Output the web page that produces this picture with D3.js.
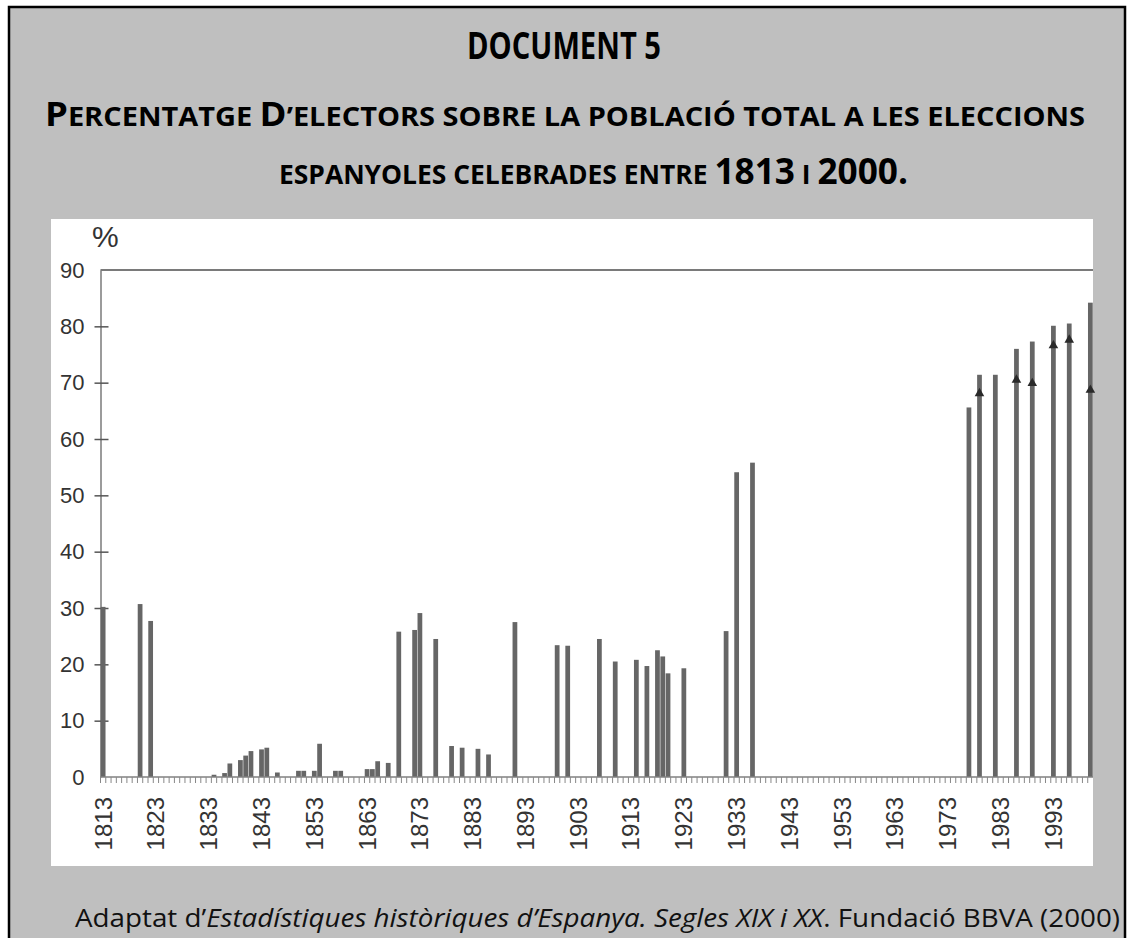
<!DOCTYPE html>
<html>
<head>
<meta charset="utf-8">
<script src="https://cdn.jsdelivr.net/npm/d3@7"></script>
<style>
  body { margin: 0; background: #fff; }
  svg { display: block; }
</style>
</head>
<body>
<svg id="chart" width="1128" height="938"></svg>
<script>
// election years and % of electors over total population
const years = [1813, 1820, 1822, 1834, 1836, 1837, 1839, 1840, 1841, 1843, 1844, 1846,
  1850, 1851, 1853, 1854, 1857, 1858, 1863, 1864, 1865, 1867, 1869, 1872, 1873, 1876,
  1879, 1881, 1884, 1886, 1891, 1899, 1901, 1907, 1910, 1914, 1916, 1918, 1919, 1920,
  1923, 1931, 1933, 1936, 1977, 1979, 1982, 1986, 1989, 1993, 1996, 2000]
const values = [30.2, 30.7, 27.7, 0.4, 0.7, 2.4, 3.0, 3.8, 4.6, 4.9, 5.2, 0.8,
  1.1, 1.1, 1.1, 5.9, 1.1, 1.1, 1.4, 1.4, 2.8, 2.5, 25.8, 26.1, 29.1, 24.5,
  5.5, 5.2, 5.0, 4.0, 27.5, 23.4, 23.3, 24.5, 20.5, 20.8, 19.7, 22.5, 21.4, 18.4,
  19.3, 25.9, 54.1, 55.8, 65.6, 71.4, 71.4, 76.0, 77.3, 80.1, 80.5, 84.2]

// small dark marks drawn on some of the recent bars
const markerYears = [1979, 1986, 1989, 1993, 1996, 2000]
const markerValues = [68.1, 70.5, 69.9, 76.6, 77.6, 68.7]

const firstYear = 1813
const lastYear = 2000
const tickYears = [1813, 1823, 1833, 1843, 1853, 1863, 1873, 1883, 1893, 1903,
  1913, 1923, 1933, 1943, 1953, 1963, 1973, 1983, 1993]
const yTicks = [0, 10, 20, 30, 40, 50, 60, 70, 80, 90]

const svg = d3.select('#chart')
const titleFont = '"Open Sans", "DejaVu Sans", sans-serif'
const axisFont = '"Liberation Sans", Arial, sans-serif'

// document frame
svg.append('rect')
  .attr('x', 9).attr('y', 7)
  .attr('width', 1116).attr('height', 945)
  .attr('fill', '#bfbfbf')
  .attr('stroke', '#000').attr('stroke-width', 2.5)

// titles
svg.append('text')
  .attr('x', 564).attr('y', 59)
  .attr('text-anchor', 'middle')
  .attr('font-family', titleFont).attr('font-weight', 700)
  .attr('font-size', 38)
  .attr('textLength', 194).attr('lengthAdjust', 'spacingAndGlyphs')
  .text('DOCUMENT 5')

function smallCaps(x, y, width, parts) {
  const t = svg.append('text')
    .attr('x', x).attr('y', y)
    .attr('font-family', titleFont).attr('font-weight', 700)
    .attr('textLength', width).attr('lengthAdjust', 'spacingAndGlyphs')
  parts.forEach(p => {
    t.append('tspan').attr('font-size', p[1]).text(p[0])
  })
}
smallCaps(45, 126, 1040, [['P', 34], ['ERCENTATGE ', 27], ['D', 34],
  ['\u2019ELECTORS SOBRE LA POBLACIÓ TOTAL A LES ELECCIONS', 27]])
smallCaps(279, 184, 629, [['ESPANYOLES CELEBRADES ENTRE ', 27], ['1813', 36],
  [' I ', 27], ['2000.', 36]])

// chart panel
svg.append('rect')
  .attr('x', 51).attr('y', 219)
  .attr('width', 1042).attr('height', 647)
  .attr('fill', '#fff')

const x = d3.scaleBand()
  .domain(d3.range(firstYear, lastYear + 1))
  .range([100.5, 1093])
  .paddingInner(0.1)
  .paddingOuter(0.05)

const y = d3.scaleLinear()
  .domain([0, 90])
  .range([777, 270])

const g = svg.append('g')

// top border line at 90
g.append('line')
  .attr('x1', 100.5).attr('x2', 1093)
  .attr('y1', y(90)).attr('y2', y(90))
  .attr('stroke', '#7a7a7a').attr('stroke-width', 2)

// y axis
const yaxis = d3.axisLeft(y).tickValues(yTicks).tickSize(0).tickPadding(16)
const yg = g.append('g')
  .attr('transform', 'translate(100.5, 0)')
  .call(yaxis)
yg.select('.domain').attr('stroke', '#7a7a7a').attr('stroke-width', 1.5)
yg.selectAll('.tick text')
  .attr('font-family', axisFont).attr('font-size', 22)
  .attr('fill', '#333')
yg.selectAll('.tick').filter(d => d > 0 && d < 90)
  .append('line')
  .attr('x1', -6).attr('x2', 8)
  .attr('stroke', '#555').attr('stroke-width', 1.5)

svg.append('text')
  .attr('x', 92).attr('y', 247)
  .attr('font-family', axisFont).attr('font-size', 30)
  .attr('fill', '#333')
  .text('%')

// bars
g.selectAll('.bar')
  .data(years)
  .enter()
  .append('rect')
    .attr('class', 'bar')
    .attr('x', d => x(d))
    .attr('width', x.bandwidth())
    .attr('y', (d, i) => y(values[i]))
    .attr('height', (d, i) => y(0) - y(values[i]))
    .attr('fill', '#666')

// dark marks
g.selectAll('.mark')
  .data(markerYears)
  .enter()
  .append('path')
    .attr('class', 'mark')
    .attr('d', d3.symbol(d3.symbolTriangle, 40))
    .attr('transform', (d, i) => `translate(${x(d) + x.bandwidth() / 2}, ${y(markerValues[i])})`)
    .attr('fill', '#2a2a2a')

// x axis with one tick per year
const step = x.step()
const xg = g.append('g').attr('transform', `translate(0, ${y(0)})`)
xg.append('line')
  .attr('x1', 100.5).attr('x2', 1093)
  .attr('stroke', '#808080').attr('stroke-width', 1.5)
xg.selectAll('.yt')
  .data(d3.range(firstYear, lastYear + 1))
  .enter()
  .append('line')
    .attr('x1', d => x(d) - x.paddingInner() * step / 2)
    .attr('x2', d => x(d) - x.paddingInner() * step / 2)
    .attr('y1', 0).attr('y2', 6)
    .attr('stroke', '#888').attr('stroke-width', 1)

xg.selectAll('.xl')
  .data(tickYears)
  .enter()
  .append('text')
    .attr('transform', d => `translate(${x(d) + x.bandwidth() / 2}, 20) rotate(-90)`)
    .attr('text-anchor', 'end')
    .attr('dy', '0.35em')
    .attr('font-family', axisFont).attr('font-size', 24)
    .attr('fill', '#333')
    .text(d => d)

// source
const src = svg.append('text')
  .attr('x', 75).attr('y', 927)
  .attr('font-family', titleFont).attr('font-size', 25)
  .attr('fill', '#111')
  .attr('textLength', 1045).attr('lengthAdjust', 'spacingAndGlyphs')
src.append('tspan').text('Adaptat d\u2019')
src.append('tspan').attr('font-style', 'italic').text('Estadístiques històriques d\u2019Espanya. Segles XIX i XX')
src.append('tspan').text('. Fundació BBVA (2000)')
</script>
</body>
</html>
